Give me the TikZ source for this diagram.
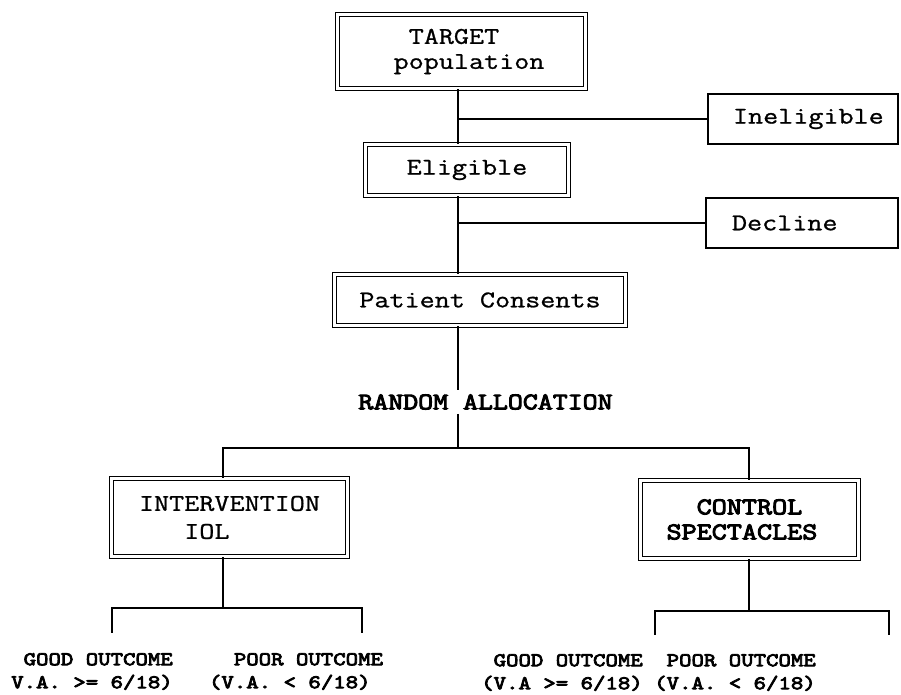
\documentclass[tikz,border=0pt]{standalone}
\usepackage{fontspec}
\newfontfamily\typed{Latin Modern Mono}[FakeStretch=1.22, FakeBold=1]
\newfontfamily\typedbold{Latin Modern Mono}[FakeStretch=1.22, FakeBold=4]

\begin{document}
\begin{tikzpicture}[x=0.5pt, y=-0.5pt,
  stagebox/.style={draw, double, line width=0.8pt, double distance=1.2pt,
    inner sep=0pt, align=left, font=\typed\fontsize{12}{12.5}\selectfont},
  sidebox/.style={draw, line width=0.8pt, inner xsep=12.5pt, inner ysep=0pt,
    text width=70pt, minimum height=25pt, align=left,
    font=\typed\fontsize{12}{12.5}\selectfont},
  outcome/.style={align=left, inner sep=0pt,
    font=\typedbold\fontsize{9.7}{11.5}\selectfont},
  link/.style={line width=0.9pt}]

\useasboundingbox (0,0) rectangle (901,695);

% stages of the trial
\node[stagebox, minimum width=124pt, minimum height=37pt] (target) at (461.5,51.5)
  {\phantom{XX}TARGET\\\phantom{X}population};
\node[stagebox, minimum width=101.5pt, minimum height=25.5pt] (elig) at (467,170) {Eligible};
\node[stagebox, minimum width=145.5pt, minimum height=25.5pt] (consent) at (480,300) {Patient Consents};
\node[font=\typedbold\fontsize{11.9}{14}\selectfont, inner sep=2pt] (random) at (485.5,402) {RANDOM ALLOCATION};

% drop-outs
\node[sidebox, minimum width=95pt] (inelig) at (803,119) {Ineligible};
\node[sidebox, minimum width=96pt] (decline) at (802,223) {Decline};

% the two arms
\node[stagebox, minimum width=118pt, minimum height=39pt] (interv) at (229.5,517.5)
  {INTERVENTION\\[1.5pt]\phantom{XXX}IOL};
\node[stagebox, minimum width=109pt, minimum height=39pt,
  font=\typedbold\fontsize{12}{12.5}\selectfont] (control) at (749.5,519.5)
  {\phantom{XX}CONTROL\\SPECTACLES\phantom{X}};

% outcomes
\node[outcome] (good1) at (92,671.5) {\phantom{X}GOOD OUTCOME\\V.A. >= 6/18)};
\node[outcome] (poor1) at (296,671.5) {\phantom{XX}POOR OUTCOME\\(V.A. < 6/18)};
\node[outcome] (good2) at (562,672.5) {\phantom{X}GOOD OUTCOME\\(V.A >= 6/18)};
\node[outcome] (poor2) at (735,672.5) {\phantom{X}POOR OUTCOME\\(V.A. < 6/18)};

% connector points
\coordinate (spine) at (458,0);
\coordinate (barL) at (223,448);
\coordinate (barR) at (749,448);
\coordinate (fork1) at (223,608);
\coordinate (fork2) at (749,611);
\coordinate (end1l) at (112,633);
\coordinate (end1r) at (362,633);
\coordinate (end2l) at (655,635);
\coordinate (end2r) at (889,635);

% main line
\draw[link] (target.south -| spine) -- (elig.north -| spine);
\draw[link] (elig.south -| spine) -- (consent.north -| spine);
\draw[link] (inelig.west -| spine) -- (inelig.west);
\draw[link] (decline.west -| spine) -- (decline.west);
\draw[link] (consent.south -| spine) -- (random.north -| spine);
\draw[link] (random.south -| spine) -- (spine |- barL);
\draw[link] (interv.north -| barL) -- (barL) -- (barR) -- (control.north -| barR);

% branches to outcomes
\draw[link] (interv.south -| barL) -- (fork1);
\draw[link] (end1l) |- (fork1) -| (end1r);
\draw[link] (control.south -| barR) -- (fork2);
\draw[link] (end2l) |- (fork2) -| (end2r);

\end{tikzpicture}
\end{document}
